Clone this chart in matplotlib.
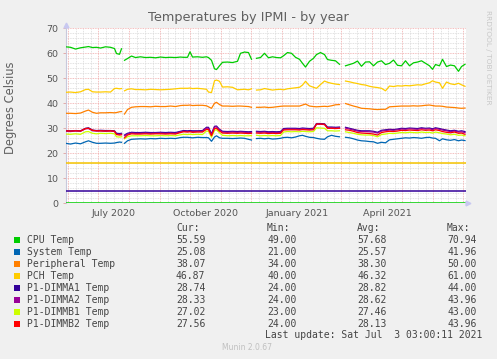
import numpy as np
import matplotlib
matplotlib.use("Agg")
import matplotlib.pyplot as plt
from matplotlib.patches import Rectangle
from matplotlib.transforms import blended_transform_factory
from datetime import datetime, timedelta

nan = np.nan

# ---------------- data ----------------
start = datetime(2020, 5, 29, 3, 0)
end = datetime(2021, 7, 3, 3, 0)

days = [0, 5, 10, 15, 20, 23, 27, 31, 35, 40,
        45, 49, 51, 54, 56, 57.5, 59, 62, 66, 70,
        75, 80, 85, 90, 95, 100, 105, 110, 115, 118,
        122, 124.5, 127, 132, 137, 141, 143, 146, 149, 151,
        154, 157, 162, 167, 172, 175, 179, 183, 186, 188.5,
        191, 195, 199, 203, 207, 211, 215, 218, 222, 226,
        230, 234, 237, 240, 244, 248, 251, 255, 259, 262,
        266, 270, 274, 277.5, 280, 284, 288, 292, 296, 300,
        304, 308, 312, 316, 320, 324, 328, 332, 336, 340,
        344, 348, 352, 356, 360, 364, 367, 370, 374, 377,
        381, 385, 389, 393, 396, 399.5]

cpu_temp = [62.6, 62.4, 61.7, 62.2, 62.5, 62.7, 62.3, 62.4, 62.1, 62.6,
            62.4, 61.9, 59.9, 59.6, 61.8, nan, 57.2, 57.9, 58.9, 58.3,
            58.6, 58.3, 58.4, 58.2, 58.5, 58.3, 58.4, 58.3, 58.5, 58.4,
            58.4, 60.6, 58.5, 58.6, 58.4, 58.6, 58.3, 57.2, 53.8, 53.5,
            55.0, 56.4, 56.5, 56.3, 56.8, 60.0, 60.5, 60.3, 57.6, nan,
            58.0, 58.3, 60.0, 58.2, 58.6, 58.3, 58.2, 59.0, 60.3, 60.0,
            58.4, 57.6, 56.0, 54.5, 56.8, 58.0, 59.5, 60.3, 59.5, 57.5,
            57.2, 57.0, 55.6, nan, 55.0, 55.5, 56.0, 56.9, 54.8, 56.5,
            56.6, 55.0, 56.5, 57.0, 55.5, 56.0, 57.3, 55.2, 55.0, 57.0,
            55.0, 56.2, 56.5, 57.0, 56.0, 55.0, 53.6, 55.5, 55.0, 57.6,
            54.7, 55.3, 55.0, 52.8, 54.7, 55.6]

system_temp = [24.0, 23.7, 24.1, 23.8, 24.6, 25.0, 24.4, 24.0, 24.0, 24.1,
               24.0, 24.1, 24.3, 24.5, 24.4, nan, 24.0, 25.0, 25.6, 25.7,
               25.8, 25.7, 25.9, 25.8, 26.0, 25.9, 26.0, 25.9, 26.3, 26.4,
               26.4, 26.3, 26.2, 26.4, 26.3, 26.3, 26.2, 24.8, 26.5, 27.0,
               26.2, 26.0, 26.0, 25.9, 26.0, 26.1, 26.0, 25.6, 25.3, nan,
               25.9, 26.0, 25.8, 26.0, 25.7, 25.8, 26.0, 26.3, 26.4, 26.2,
               26.5, 27.0, 27.2, 26.8, 26.4, 26.3, 26.0, 25.7, 25.6, 26.6,
               27.2, 26.8, 26.6, nan, 26.4, 26.2, 25.8, 25.3, 25.0, 24.9,
               24.7, 24.6, 24.0, 24.4, 24.2, 25.4, 25.6, 25.8, 26.0, 26.2,
               26.1, 26.3, 26.2, 26.0, 26.3, 26.4, 26.1, 26.0, 25.0, 25.8,
               25.4, 25.2, 25.5, 25.0, 25.3, 25.1]

peripheral_temp = [36.0, 36.0, 35.9, 36.1, 36.9, 37.3, 36.4, 36.0, 36.2, 36.2,
                   36.3, 36.2, 36.3, 36.6, 36.7, nan, 35.7, 37.5, 38.4, 38.6,
                   38.7, 38.7, 38.6, 38.8, 38.7, 38.7, 38.9, 38.7, 39.1, 39.2,
                   39.2, 39.3, 39.1, 39.2, 39.2, 39.0, 38.6, 38.0, 40.0, 40.4,
                   39.5, 38.9, 38.9, 38.8, 38.9, 38.9, 38.8, 38.7, 38.4, nan,
                   38.4, 38.4, 38.5, 38.3, 38.4, 38.6, 38.8, 38.9, 38.9, 38.9,
                   38.9, 38.9, 39.3, 39.7, 38.9, 38.7, 38.6, 38.7, 38.8, 38.7,
                   39.0, 39.4, 39.5, nan, 39.9, 39.4, 38.9, 38.5, 38.0, 37.9,
                   37.8, 37.6, 37.5, 37.6, 37.6, 38.6, 38.7, 38.8, 38.9, 38.9,
                   38.9, 39.0, 38.9, 39.0, 39.2, 39.3, 39.1, 38.9, 38.9, 38.8,
                   38.5, 38.4, 38.3, 38.1, 38.0, 38.1]

pch_temp = [44.4, 44.5, 44.3, 44.6, 45.5, 45.6, 44.6, 44.5, 44.5, 44.6,
            44.5, 45.9, 46.0, 45.8, 45.9, nan, 45.0, 45.6, 45.8, 45.5,
            45.5, 45.4, 45.6, 45.5, 45.4, 45.5, 45.6, 45.8, 46.0, 46.0,
            46.0, 46.1, 45.9, 46.0, 45.8, 45.6, 44.5, 44.3, 49.0, 49.3,
            48.8, 46.5, 46.6, 46.4, 45.4, 45.5, 45.6, 45.4, 45.8, nan,
            45.3, 45.4, 45.9, 45.6, 45.3, 45.5, 45.6, 45.4, 45.8, 46.0,
            46.2, 46.4, 47.3, 48.8, 47.0, 46.4, 46.0, 47.5, 48.9, 48.4,
            48.0, 47.7, 47.5, nan, 48.9, 48.6, 48.2, 47.9, 47.5, 47.3,
            46.8, 46.5, 46.3, 46.0, 45.0, 46.9, 46.7, 47.0, 46.9, 47.1,
            47.0, 47.2, 47.4, 47.3, 47.8, 48.2, 49.0, 48.5, 48.2, 46.0,
            48.5, 47.8, 47.5, 48.0, 47.4, 46.8]

dimma1_temp = [29.1, 29.0, 29.1, 29.0, 30.0, 30.2, 29.3, 29.1, 29.2, 29.1,
               29.1, 29.0, 28.0, 27.9, 28.0, nan, 27.3, 28.0, 28.4, 28.3,
               28.3, 28.4, 28.3, 28.3, 28.4, 28.3, 28.4, 28.3, 28.8, 29.1,
               29.0, 29.1, 29.0, 29.0, 29.1, 30.4, 30.4, 27.8, 30.8, 30.9,
               29.6, 28.8, 28.7, 28.8, 28.7, 28.8, 28.7, 28.6, 28.7, nan,
               28.8, 28.7, 28.8, 28.6, 28.7, 28.6, 28.7, 29.9, 30.0, 30.0,
               30.0, 29.9, 30.1, 30.0, 29.9, 30.0, 31.9, 31.9, 31.8, 30.5,
               30.5, 30.4, 30.5, nan, 30.4, 30.0, 29.6, 29.2, 29.0, 29.0,
               29.0, 28.8, 28.4, 29.2, 29.4, 29.6, 29.5, 29.7, 30.0, 29.9,
               30.1, 30.0, 29.9, 30.2, 30.0, 30.1, 29.8, 30.2, 29.9, 29.6,
               29.3, 29.0, 29.2, 28.8, 29.0, 28.7]

dimma2_temp = [28.8, 28.7, 28.9, 28.8, 29.8, 29.9, 29.0, 28.9, 28.9, 28.8,
               28.9, 28.7, 27.7, 27.6, 27.7, nan, 27.0, 27.7, 28.1, 28.0,
               28.0, 28.1, 28.0, 28.1, 28.1, 28.0, 28.1, 28.0, 28.6, 28.8,
               28.7, 28.8, 28.7, 28.8, 28.8, 30.1, 30.0, 27.5, 30.5, 30.6,
               29.3, 28.5, 28.4, 28.5, 28.4, 28.5, 28.4, 28.3, 28.4, nan,
               28.5, 28.4, 28.5, 28.3, 28.4, 28.3, 28.4, 29.6, 29.7, 29.7,
               29.7, 29.6, 29.8, 29.7, 29.6, 29.7, 31.7, 31.6, 31.5, 30.2,
               30.2, 30.1, 30.2, nan, 30.1, 29.7, 29.3, 28.9, 28.7, 28.7,
               28.6, 28.5, 28.1, 28.9, 29.1, 29.3, 29.2, 29.4, 29.7, 29.6,
               29.8, 29.7, 29.6, 29.9, 29.7, 29.8, 29.5, 29.9, 29.6, 29.3,
               29.0, 28.7, 28.9, 28.5, 28.6, 28.3]

dimmb1_temp = [27.7, 27.6, 27.8, 27.6, 28.6, 28.7, 28.0, 27.8, 28.0, 27.9,
               28.0, 27.8, 26.6, 26.5, 26.6, nan, 25.8, 26.6, 27.0, 27.0,
               27.0, 27.1, 27.0, 27.0, 27.1, 27.0, 27.1, 27.0, 27.4, 27.6,
               27.5, 27.6, 27.5, 27.6, 27.5, 28.9, 28.8, 26.4, 29.2, 29.4,
               28.2, 27.2, 27.0, 27.1, 27.0, 27.1, 27.0, 27.0, 27.1, nan,
               27.2, 27.0, 27.1, 27.0, 27.1, 27.0, 27.1, 28.5, 28.7, 28.6,
               28.7, 28.6, 28.8, 28.7, 28.6, 28.7, 30.2, 30.1, 30.0, 29.0,
               29.0, 28.9, 29.0, nan, 28.6, 28.3, 28.0, 27.6, 27.4, 27.3,
               27.3, 27.1, 26.6, 27.5, 27.7, 28.0, 27.9, 28.1, 28.3, 28.2,
               28.4, 28.3, 28.2, 28.5, 28.3, 28.4, 28.1, 28.5, 28.2, 27.9,
               27.7, 27.4, 27.6, 27.2, 27.3, 27.0]

dimmb2_temp = [29.0, 28.9, 29.0, 28.9, 29.9, 30.0, 29.2, 29.0, 29.0, 28.9,
               29.0, 28.8, 27.5, 27.3, 27.4, nan, 26.2, 27.3, 27.8, 27.7,
               27.7, 27.8, 27.7, 27.8, 27.8, 27.7, 27.8, 27.7, 28.3, 28.6,
               28.5, 28.6, 28.4, 28.5, 28.5, 29.6, 29.5, 27.0, 29.9, 30.0,
               28.9, 28.1, 28.0, 28.1, 28.0, 28.1, 28.0, 27.9, 28.0, nan,
               28.1, 28.0, 28.1, 27.9, 28.0, 27.9, 28.0, 29.3, 29.4, 29.4,
               29.4, 29.3, 29.5, 29.4, 29.3, 29.4, 31.7, 31.7, 31.6, 30.0,
               30.0, 29.9, 30.0, nan, 29.4, 29.2, 28.8, 28.3, 28.1, 28.0,
               27.9, 27.7, 27.3, 28.3, 28.6, 28.8, 28.7, 28.9, 29.2, 29.1,
               29.3, 29.2, 29.1, 29.4, 29.2, 29.3, 29.0, 29.4, 29.1, 28.7,
               28.4, 28.2, 28.5, 28.0, 28.1, 27.6]

series_names = ["CPU Temp", "System Temp", "Peripheral Temp", "PCH Temp",
                "P1-DIMMA1 Temp", "P1-DIMMA2 Temp", "P1-DIMMB1 Temp", "P1-DIMMB2 Temp"]
series_colors = ["#00CC00", "#0066B3", "#FF8000", "#FFCC00",
                 "#330099", "#990099", "#CCFF00", "#FF0000"]
series_values = [cpu_temp, system_temp, peripheral_temp, pch_temp,
                 dimma1_temp, dimma2_temp, dimmb1_temp, dimmb2_temp]

cur_vals = ["55.59", "25.08", "38.07", "46.87", "28.74", "28.33", "27.02", "27.56"]
min_vals = ["49.00", "21.00", "34.00", "40.00", "24.00", "24.00", "23.00", "24.00"]
avg_vals = ["57.68", "25.57", "38.30", "46.32", "28.82", "28.62", "27.46", "28.13"]
max_vals = ["70.94", "41.96", "50.00", "61.00", "44.00", "43.96", "43.00", "43.96"]

threshold_levels = [16, 5, 0]
threshold_colors = ["#F5C400", "#330099", "#00CC00"]

month_labels = ["July 2020", "October 2020", "January 2021", "April 2021"]
month_label_dates = [datetime(2020, 7, 16), datetime(2020, 10, 16),
                     datetime(2021, 1, 16), datetime(2021, 4, 16)]
y_ticks = [0, 10, 20, 30, 40, 50, 60, 70]

# ---------------- figure ----------------
W, H = 497, 359
bg = "#F0F0F0"
txt = "#555555"
fig = plt.figure(figsize=(W / 100, H / 100), dpi=100, facecolor=bg)

x_left, x_right = 65.5, 465.5
y_top, y_bot = 28.3, 203.3
ax = fig.add_axes([x_left / W, 1 - y_bot / H, (x_right - x_left) / W, (y_bot - y_top) / H])
ax.set_facecolor("white")
ax.set_xlim(start, end)
ax.set_ylim(0, 70)

# grid
minor_c = "#D8D8D8"
major_c = "#F0A8A8"
for v in np.arange(0, 71, 2):
    if v % 10:
        ax.axhline(v, color=minor_c, lw=0.6, ls=(0, (1, 1)), zorder=1)
for v in y_ticks[1:]:
    ax.axhline(v, color=major_c, lw=0.6, ls=(0, (1, 1)), zorder=1)

months = []
y_, m_ = 2020, 6
while True:
    d = datetime(y_, m_, 1)
    if d > end:
        break
    months.append(d)
    m_ += 1
    if m_ > 12:
        m_ = 1
        y_ += 1
allm = [datetime(2020, 5, 1)] + months + [datetime(2021, 8, 1)]
for a, b in zip(allm[:-1], allm[1:]):
    step = (b - a) / 4
    for k in range(1, 4):
        t = a + step * k
        if start < t < end:
            ax.axvline(t, color=minor_c, lw=0.6, ls=(0, (1, 1)), zorder=1)
for d in months:
    ax.axvline(d, color=major_c, lw=0.6, ls=(0, (1, 1)), zorder=1)

# thresholds
for lv, c in zip(threshold_levels, threshold_colors):
    ax.axhline(lv, color=c, lw=1.1, zorder=3)

# series
dates = [start + timedelta(days=d) for d in days]
for vals, c in zip(series_values, series_colors):
    assert len(vals) == len(dates)
    ax.plot(dates, vals, color=c, lw=0.9, zorder=4)

# axes styling
for s in ["top", "right", "bottom"]:
    ax.spines[s].set_visible(False)
ax.spines["left"].set_color("#C8C8DC")
ax.spines["left"].set_linewidth(0.8)
ax.set_yticks(y_ticks)
ax.set_yticklabels([str(v) for v in y_ticks], fontsize=6.8, color=txt)
ax.tick_params(axis="y", length=2, width=0.6, color="#E0A0A0", pad=3)
ax.set_xticks(month_label_dates)
ax.set_xticklabels(month_labels, fontsize=6.8, color=txt)
ax.tick_params(axis="x", length=0, pad=4)

# arrows
ax.plot([start], [71.3], marker="^", ms=3.5, color="#C8C8F0", clip_on=False, zorder=5)
ax.plot([end + timedelta(days=2.5)], [0], marker=">", ms=3.5, color="#C8C8F0", clip_on=False, zorder=5)

# texts
def fy(py):
    return 1 - py / H

fig.text(248.5 / W, fy(18), "Temperatures by IPMI - by year", ha="center", va="center",
         fontsize=9.3, color="#606060")
fig.text(11 / W, fy(108), "Degrees Celsius", rotation=90, ha="center", va="center",
         fontsize=8.3, color="#606060")
fig.text(488 / W, fy(57), "RRDTOOL / TOBI OETIKER", rotation=270, ha="center", va="center",
         fontsize=5.3, color="#C8C8C8")

mono = "DejaVu Sans Mono"
lfs = 7
lc = "#444444"
cols = [176, 267, 357, 447]
for cx, h in zip(cols, ["Cur:", "Min:", "Avg:", "Max:"]):
    fig.text(cx / W, fy(228), h, ha="left", va="center", fontsize=lfs, family=mono, color=lc)
for i, name in enumerate(series_names):
    py = 240 + 11.95 * i
    fig.patches.append(Rectangle((14 / W, fy(py + 3)), 6 / W, 6 / H, transform=fig.transFigure,
                                 facecolor=series_colors[i], edgecolor="none"))
    fig.text(26.7 / W, fy(py), name, ha="left", va="center", fontsize=lfs, family=mono, color=lc)
    for cx, v in zip(cols, [cur_vals[i], min_vals[i], avg_vals[i], max_vals[i]]):
        fig.text(cx / W, fy(py), v, ha="left", va="center", fontsize=lfs, family=mono, color=lc)

fig.text(482 / W, fy(335.5), "Last update: Sat Jul  3 03:00:11 2021", ha="right", va="center",
         fontsize=lfs, family=mono, color=lc)
fig.text(247 / W, fy(348), "Munin 2.0.67", ha="center", va="center", fontsize=5.5, color="#C0C0C0")

fig.savefig("out.png", dpi=100, facecolor=bg)
